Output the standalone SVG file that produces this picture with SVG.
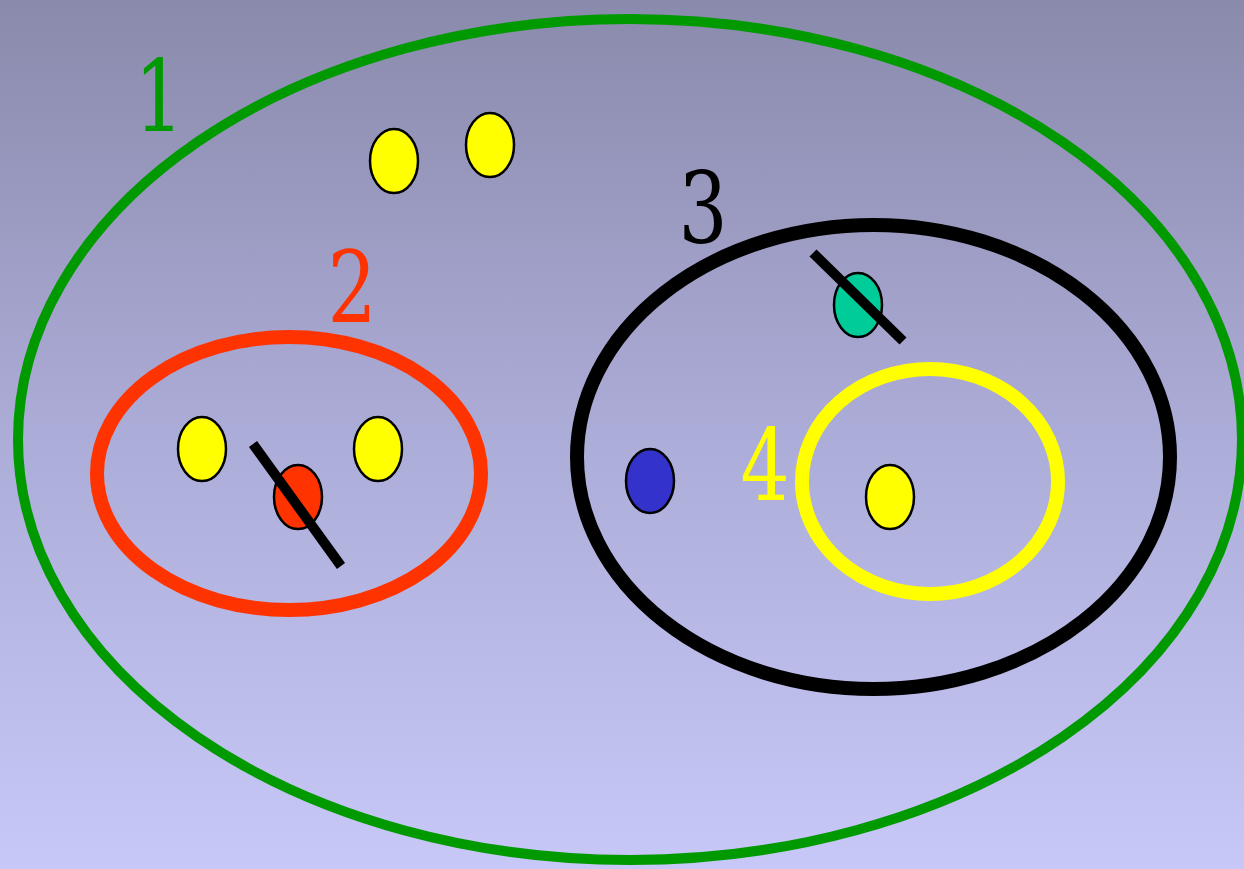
<svg xmlns="http://www.w3.org/2000/svg" width="1244" height="869" viewBox="0 0 1244 869">
<defs>
<linearGradient id="bg" x1="0" y1="0" x2="0" y2="1">
<stop offset="0" stop-color="#8a8aac"/>
<stop offset="0.5" stop-color="#acacd8"/>
<stop offset="1" stop-color="#c8c8f8"/>
</linearGradient>
<style>
.lbl{font-family:"DejaVu Serif",serif;font-size:99px;text-anchor:middle}
.dot{stroke:#000;stroke-width:2.5}
.ring{fill:none}
.slash{stroke:#000;stroke-width:10}
</style>
</defs>
<rect width="1244" height="869" fill="url(#bg)"/>
<g id="set1">
<ellipse class="ring" cx="630" cy="439.5" rx="612" ry="420.5" stroke="#009900" stroke-width="10"/>
<text class="lbl" transform="translate(159 131) scale(0.78 1)" fill="#009900">1</text>
<ellipse class="dot" cx="394" cy="161" rx="24" ry="32" fill="#ffff00"/>
<ellipse class="dot" cx="490" cy="145" rx="24" ry="32" fill="#ffff00"/>
</g>
<g id="set2">
<ellipse class="ring" cx="289" cy="473.5" rx="192" ry="136.5" stroke="#ff3300" stroke-width="14"/>
<text class="lbl" transform="translate(352 322) scale(0.78 1)" fill="#ff3300">2</text>
<ellipse class="dot" cx="202" cy="449" rx="24" ry="32" fill="#ffff00"/>
<ellipse class="dot" cx="378" cy="449" rx="24" ry="32" fill="#ffff00"/>
<ellipse class="dot" cx="298" cy="497" rx="24" ry="32" fill="#ff3300"/>
<line class="slash" x1="253" y1="444" x2="341" y2="566"/>
</g>
<g id="set3">
<ellipse class="ring" cx="873.5" cy="457" rx="296.5" ry="232" stroke="#000" stroke-width="14"/>
<text class="lbl" transform="translate(703 243) scale(0.78 1)" fill="#000">3</text>
<ellipse class="dot" cx="858" cy="305" rx="24" ry="32" fill="#00cc99"/>
<line class="slash" x1="813" y1="253" x2="903" y2="341"/>
<ellipse class="dot" cx="650" cy="481" rx="24" ry="32" fill="#3333cc"/>
</g>
<g id="set4">
<ellipse class="ring" cx="930" cy="481.5" rx="128" ry="112.5" stroke="#ffff00" stroke-width="14"/>
<text class="lbl" transform="translate(765 500) scale(0.78 1)" fill="#ffff00">4</text>
<ellipse class="dot" cx="890" cy="497" rx="24" ry="32" fill="#ffff00"/>
</g>
<g id="connectors"></g>
</svg>
